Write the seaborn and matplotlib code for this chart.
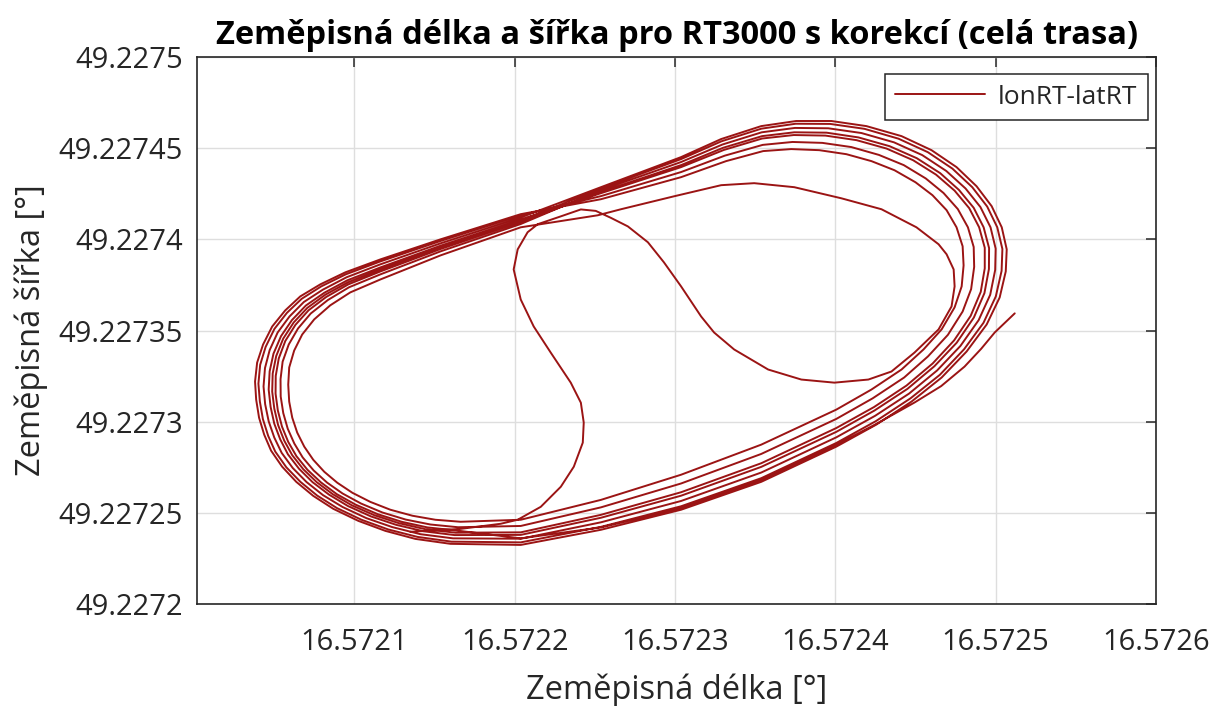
import matplotlib
matplotlib.use("Agg")
import matplotlib.pyplot as plt
import matplotlib.ticker as mticker
import numpy as np
import pandas as pd
import seaborn as sns

# ---------------- data ----------------
# opening manoeuvre: S-curve up, S-curve down, inner right loop
lon_fig = [16.5721350, 16.5721663, 16.5721913, 16.5722019, 16.5722163, 16.5722288, 16.5722369, 16.5722425, 16.5722431, 16.5722413,
           16.5722350, 16.5722225, 16.5722119, 16.5722038, 16.5721994, 16.5722019, 16.5722081, 16.5722144, 16.5722288, 16.5722413,
           16.5722506, 16.5722600, 16.5722706, 16.5722831, 16.5722931, 16.5723038, 16.5723163, 16.5723244, 16.5723369, 16.5723581,
           16.5723788, 16.5723994, 16.5724206, 16.5724350, 16.5724494, 16.5724644, 16.5724725, 16.5724744, 16.5724738, 16.5724694,
           16.5724644, 16.5724506, 16.5724288, 16.5724038, 16.5723744, 16.5723494, 16.5723288, 16.5722994, 16.5722663, 16.5722519]
lat_fig = [49.2272396, 49.2272412, 49.2272440, 49.2272462, 49.2272533, 49.2272643, 49.2272753, 49.2272885, 49.2272995, 49.2273104,
           49.2273214, 49.2273379, 49.2273522, 49.2273670, 49.2273835, 49.2273945, 49.2274039, 49.2274083, 49.2274126, 49.2274164,
           49.2274156, 49.2274118, 49.2274071, 49.2273984, 49.2273874, 49.2273742, 49.2273577, 49.2273489, 49.2273396, 49.2273286,
           49.2273231, 49.2273214, 49.2273231, 49.2273275, 49.2273379, 49.2273506, 49.2273632, 49.2273742, 49.2273835, 49.2273918,
           49.2273973, 49.2274066, 49.2274165, 49.2274225, 49.2274286, 49.2274308, 49.2274297, 49.2274236, 49.2274165, 49.2274132]

lon_lap1 = [16.5722038, 16.5721538, 16.5721163, 16.5720975, 16.5720850, 16.5720750, 16.5720675, 16.5720625, 16.5720594, 16.5720588,
            16.5720594, 16.5720613, 16.5720644, 16.5720688, 16.5720744, 16.5720813, 16.5720894, 16.5720988, 16.5721100, 16.5721225,
            16.5721363, 16.5721506, 16.5721663, 16.5722038, 16.5722538, 16.5723038, 16.5723538, 16.5724006, 16.5724225, 16.5724413,
            16.5724550, 16.5724663, 16.5724744, 16.5724788, 16.5724800, 16.5724794, 16.5724756, 16.5724694, 16.5724606, 16.5724500,
            16.5724369, 16.5724225, 16.5724069, 16.5723900, 16.5723725, 16.5723550, 16.5723319, 16.5723038, 16.5722538]
lat_lap1 = [49.2274066, 49.2273912, 49.2273780, 49.2273709, 49.2273638, 49.2273561, 49.2273478, 49.2273390, 49.2273297, 49.2273203,
            49.2273110, 49.2273022, 49.2272940, 49.2272863, 49.2272791, 49.2272725, 49.2272665, 49.2272610, 49.2272560, 49.2272517,
            49.2272484, 49.2272462, 49.2272451, 49.2272462, 49.2272571, 49.2272709, 49.2272874, 49.2273066, 49.2273176, 49.2273286,
            49.2273396, 49.2273506, 49.2273627, 49.2273742, 49.2273857, 49.2273962, 49.2274066, 49.2274160, 49.2274242, 49.2274313,
            49.2274379, 49.2274429, 49.2274467, 49.2274489, 49.2274495, 49.2274484, 49.2274429, 49.2274341, 49.2274220]

lon_lap2 = [16.5722038, 16.5721538, 16.5721163, 16.5720944, 16.5720788, 16.5720663, 16.5720569, 16.5720488, 16.5720431, 16.5720394,
            16.5720381, 16.5720388, 16.5720406, 16.5720438, 16.5720481, 16.5720550, 16.5720638, 16.5720744, 16.5720869, 16.5721025,
            16.5721194, 16.5721381, 16.5721600, 16.5722038, 16.5722538, 16.5723038, 16.5723538, 16.5724006, 16.5724256, 16.5724475,
            16.5724663, 16.5724819, 16.5724944, 16.5725025, 16.5725063, 16.5725069, 16.5725038, 16.5724975, 16.5724881, 16.5724756,
            16.5724600, 16.5724413, 16.5724194, 16.5723975, 16.5723756, 16.5723538, 16.5723288, 16.5723038, 16.5722538]
lat_lap2 = [49.2274138, 49.2274000, 49.2273890, 49.2273819, 49.2273753, 49.2273687, 49.2273610, 49.2273522, 49.2273423, 49.2273324,
            49.2273220, 49.2273121, 49.2273022, 49.2272929, 49.2272841, 49.2272753, 49.2272670, 49.2272593, 49.2272522, 49.2272456,
            49.2272401, 49.2272357, 49.2272330, 49.2272324, 49.2272407, 49.2272517, 49.2272670, 49.2272863, 49.2272984, 49.2273110,
            49.2273242, 49.2273385, 49.2273533, 49.2273681, 49.2273824, 49.2273945, 49.2274066, 49.2274182, 49.2274291, 49.2274396,
            49.2274489, 49.2274566, 49.2274621, 49.2274649, 49.2274649, 49.2274621, 49.2274550, 49.2274451, 49.2274286]

lon_lap3 = [16.5722038, 16.5721538, 16.5721163, 16.5720952, 16.5720804, 16.5720685, 16.5720596, 16.5720522, 16.5720472, 16.5720443,
            16.5720434, 16.5720444, 16.5720466, 16.5720501, 16.5720547, 16.5720616, 16.5720702, 16.5720805, 16.5720927, 16.5721075,
            16.5721236, 16.5721412, 16.5721616, 16.5722038, 16.5722538, 16.5723038, 16.5723538, 16.5724006, 16.5724248, 16.5724460,
            16.5724635, 16.5724780, 16.5724894, 16.5724966, 16.5724997, 16.5725000, 16.5724968, 16.5724905, 16.5724812, 16.5724692,
            16.5724542, 16.5724366, 16.5724163, 16.5723956, 16.5723748, 16.5723541, 16.5723296, 16.5723038, 16.5722538]
lat_lap3 = [49.2274120, 49.2273978, 49.2273863, 49.2273792, 49.2273724, 49.2273656, 49.2273577, 49.2273489, 49.2273392, 49.2273294,
            49.2273193, 49.2273096, 49.2273002, 49.2272913, 49.2272829, 49.2272746, 49.2272669, 49.2272597, 49.2272532, 49.2272471,
            49.2272422, 49.2272383, 49.2272360, 49.2272358, 49.2272448, 49.2272565, 49.2272721, 49.2272914, 49.2273032, 49.2273154,
            49.2273281, 49.2273415, 49.2273557, 49.2273696, 49.2273832, 49.2273949, 49.2274066, 49.2274177, 49.2274279, 49.2274375,
            49.2274462, 49.2274532, 49.2274583, 49.2274609, 49.2274611, 49.2274587, 49.2274520, 49.2274424, 49.2274270]

lon_lap4 = [16.5722038, 16.5721538, 16.5721163, 16.5720967, 16.5720835, 16.5720728, 16.5720649, 16.5720591, 16.5720553, 16.5720540,
            16.5720541, 16.5720557, 16.5720585, 16.5720626, 16.5720678, 16.5720747, 16.5720830, 16.5720927, 16.5721042, 16.5721175,
            16.5721321, 16.5721475, 16.5721647, 16.5722038, 16.5722538, 16.5723038, 16.5723538, 16.5724006, 16.5724233, 16.5724429,
            16.5724578, 16.5724702, 16.5724794, 16.5724847, 16.5724866, 16.5724863, 16.5724827, 16.5724764, 16.5724675, 16.5724564,
            16.5724427, 16.5724272, 16.5724100, 16.5723919, 16.5723733, 16.5723547, 16.5723311, 16.5723038, 16.5722538]
lat_lap4 = [49.2274084, 49.2273934, 49.2273808, 49.2273737, 49.2273667, 49.2273593, 49.2273511, 49.2273423, 49.2273329, 49.2273233,
            49.2273138, 49.2273047, 49.2272961, 49.2272880, 49.2272804, 49.2272732, 49.2272666, 49.2272606, 49.2272551, 49.2272502,
            49.2272463, 49.2272436, 49.2272421, 49.2272428, 49.2272530, 49.2272661, 49.2272823, 49.2273015, 49.2273128, 49.2273242,
            49.2273358, 49.2273476, 49.2273604, 49.2273727, 49.2273849, 49.2273958, 49.2274066, 49.2274166, 49.2274254, 49.2274334,
            49.2274407, 49.2274463, 49.2274506, 49.2274529, 49.2274534, 49.2274518, 49.2274459, 49.2274369, 49.2274237]

lon_lap5 = [16.5722038, 16.5721538, 16.5721163, 16.5720947, 16.5720794, 16.5720672, 16.5720580, 16.5720502, 16.5720447, 16.5720413,
            16.5720402, 16.5720411, 16.5720430, 16.5720463, 16.5720507, 16.5720576, 16.5720664, 16.5720768, 16.5720892, 16.5721045,
            16.5721211, 16.5721394, 16.5721606, 16.5722038, 16.5722538, 16.5723038, 16.5723538, 16.5724006, 16.5724253, 16.5724469,
            16.5724652, 16.5724803, 16.5724924, 16.5725001, 16.5725037, 16.5725042, 16.5725010, 16.5724947, 16.5724854, 16.5724730,
            16.5724577, 16.5724394, 16.5724182, 16.5723968, 16.5723753, 16.5723539, 16.5723291, 16.5723038, 16.5722538]
lat_lap5 = [49.2274131, 49.2273991, 49.2273879, 49.2273808, 49.2273742, 49.2273674, 49.2273597, 49.2273509, 49.2273410, 49.2273312,
            49.2273209, 49.2273111, 49.2273014, 49.2272922, 49.2272836, 49.2272750, 49.2272670, 49.2272595, 49.2272526, 49.2272462,
            49.2272409, 49.2272368, 49.2272342, 49.2272338, 49.2272423, 49.2272536, 49.2272690, 49.2272883, 49.2273003, 49.2273128,
            49.2273257, 49.2273397, 49.2273542, 49.2273687, 49.2273827, 49.2273947, 49.2274066, 49.2274180, 49.2274286, 49.2274388,
            49.2274478, 49.2274552, 49.2274606, 49.2274633, 49.2274634, 49.2274607, 49.2274538, 49.2274440, 49.2274279]

lon_lap6 = [16.5722038, 16.5721538, 16.5721163, 16.5720960, 16.5720819, 16.5720707, 16.5720622, 16.5720557, 16.5720513, 16.5720491,
            16.5720488, 16.5720501, 16.5720525, 16.5720563, 16.5720613, 16.5720682, 16.5720766, 16.5720866, 16.5720985, 16.5721125,
            16.5721279, 16.5721444, 16.5721632, 16.5722038, 16.5722538, 16.5723038, 16.5723538, 16.5724006, 16.5724241, 16.5724444,
            16.5724607, 16.5724741, 16.5724844, 16.5724907, 16.5724932, 16.5724932, 16.5724897, 16.5724835, 16.5724744, 16.5724628,
            16.5724485, 16.5724319, 16.5724132, 16.5723938, 16.5723741, 16.5723544, 16.5723304, 16.5723038, 16.5722538]
lat_lap6 = [49.2274102, 49.2273956, 49.2273835, 49.2273764, 49.2273696, 49.2273624, 49.2273544, 49.2273456, 49.2273360, 49.2273264,
            49.2273165, 49.2273072, 49.2272981, 49.2272896, 49.2272816, 49.2272739, 49.2272668, 49.2272602, 49.2272541, 49.2272487,
            49.2272443, 49.2272410, 49.2272391, 49.2272393, 49.2272489, 49.2272613, 49.2272772, 49.2272965, 49.2273080, 49.2273198,
            49.2273319, 49.2273446, 49.2273580, 49.2273712, 49.2273841, 49.2273954, 49.2274066, 49.2274171, 49.2274267, 49.2274355,
            49.2274434, 49.2274498, 49.2274544, 49.2274569, 49.2274572, 49.2274553, 49.2274490, 49.2274396, 49.2274253]

lon_lap7 = [16.5722038, 16.5721538, 16.5721163, 16.5720956, 16.5720813, 16.5720698, 16.5720611, 16.5720543, 16.5720496, 16.5720472,
            16.5720466, 16.5720478, 16.5720501, 16.5720538, 16.5720586, 16.5720655, 16.5720740, 16.5720842, 16.5720961, 16.5721105,
            16.5721262, 16.5721431, 16.5721625, 16.5722038, 16.5722538, 16.5723038, 16.5723538, 16.5724006, 16.5724244, 16.5724450,
            16.5724618, 16.5724757, 16.5724864, 16.5724930, 16.5724958, 16.5724959, 16.5724925, 16.5724863, 16.5724771, 16.5724654,
            16.5724508, 16.5724338, 16.5724144, 16.5723945, 16.5723744, 16.5723543, 16.5723300, 16.5723038, 16.5722538]
lat_lap7 = [49.2274109, 49.2273965, 49.2273846, 49.2273775, 49.2273707, 49.2273637, 49.2273557, 49.2273469, 49.2273373, 49.2273276,
            49.2273176, 49.2273081, 49.2272989, 49.2272903, 49.2272821, 49.2272742, 49.2272668, 49.2272600, 49.2272537, 49.2272480,
            49.2272434, 49.2272399, 49.2272378, 49.2272379, 49.2272473, 49.2272594, 49.2272752, 49.2272944, 49.2273061, 49.2273180,
            49.2273304, 49.2273433, 49.2273571, 49.2273705, 49.2273837, 49.2273952, 49.2274066, 49.2274173, 49.2274271, 49.2274363,
            49.2274445, 49.2274511, 49.2274559, 49.2274585, 49.2274587, 49.2274566, 49.2274502, 49.2274407, 49.2274260]

# last partial lap ending in the short tail at the right
lon_last = [16.5722038, 16.5721538, 16.5721163, 16.5720963, 16.5720825, 16.5720715, 16.5720633, 16.5720570, 16.5720529, 16.5720510,
            16.5720509, 16.5720523, 16.5720549, 16.5720588, 16.5720639, 16.5720708, 16.5720792, 16.5720890, 16.5721008, 16.5721145,
            16.5721295, 16.5721456, 16.5721638, 16.5722038, 16.5722538, 16.5723038, 16.5723538, 16.5724006, 16.5724250, 16.5724494,
            16.5724660, 16.5724806, 16.5724910, 16.5724994, 16.5725119]
lat_last = [49.2274095, 49.2273947, 49.2273824, 49.2273753, 49.2273684, 49.2273611, 49.2273531, 49.2273443, 49.2273347, 49.2273251,
            49.2273154, 49.2273062, 49.2272973, 49.2272889, 49.2272811, 49.2272736, 49.2272667, 49.2272603, 49.2272545, 49.2272493,
            49.2272451, 49.2272420, 49.2272403, 49.2272360, 49.2272420, 49.2272525, 49.2272680, 49.2272873, 49.2272985, 49.2273105,
            49.2273195, 49.2273302, 49.2273400, 49.2273489, 49.2273594]

x_ticks = [16.5721, 16.5722, 16.5723, 16.5724, 16.5725, 16.5726]
y_ticks = [49.2272, 49.22725, 49.2273, 49.22735, 49.2274, 49.22745, 49.2275]

lon_all = (lon_fig + lon_lap1 + lon_lap2 + lon_lap3 + lon_lap4 + lon_lap5 + lon_lap6 + lon_lap7 + lon_last)
lat_all = (lat_fig + lat_lap1 + lat_lap2 + lat_lap3 + lat_lap4 + lat_lap5 + lat_lap6 + lat_lap7 + lat_last)
df = pd.DataFrame({"lon": lon_all, "lat": lat_all})

# ---------------- style ----------------
sns.set_style("white")
plt.rcParams["font.family"] = ["Open Sans", "DejaVu Sans"]
TXT = "#262626"
LINE = "#9B1414"

fig = plt.figure(figsize=(12.12, 7.06), dpi=100)
ax = fig.add_axes([197 / 1212, 1 - 604 / 706, (1156 - 197) / 1212, (604 - 57) / 706])

sns.lineplot(data=df, x="lon", y="lat", sort=False, estimator=None, color=LINE,
             linewidth=1.4, label="lonRT-latRT", ax=ax)
for ln in ax.get_lines():
    ln.set_solid_joinstyle("round")

ax.set_xlim(16.5720019, 16.5726)
ax.set_ylim(49.2272, 49.2275)
ax.xaxis.set_major_locator(mticker.FixedLocator(x_ticks))
ax.yaxis.set_major_locator(mticker.FixedLocator(y_ticks))
fmt = mticker.FuncFormatter(lambda v, p: ("%.5f" % v).rstrip("0").rstrip("."))
ax.xaxis.set_major_formatter(fmt)
ax.yaxis.set_major_formatter(fmt)

ax.grid(True, color="#dedede", linewidth=1.0)
ax.set_axisbelow(True)
for s in ax.spines.values():
    s.set_visible(True)
    s.set_color(TXT)
    s.set_linewidth(1.2)
ax.tick_params(direction="in", length=7, width=1.1, top=True, right=True,
               colors=TXT, labelsize=21)
ax.tick_params(axis="x", pad=17)
ax.tick_params(axis="y", pad=10)

ax.set_xlabel("Zeměpisná délka [°]", fontsize=23.5, color=TXT, labelpad=12)
ax.set_ylabel("Zeměpisná šířka [°]", fontsize=23.5, color=TXT, labelpad=8)
ax.set_title("Zeměpisná délka a šířka pro RT3000 s korekcí (celá trasa)",
             fontsize=23.5, fontweight="bold", color="black", pad=9)

leg = ax.legend(loc="upper right", bbox_to_anchor=(0.9917, 0.969), borderaxespad=0,
                fontsize=19, handlelength=3.4, handletextpad=0.5, frameon=True,
                fancybox=False, framealpha=1, edgecolor=TXT)
leg.get_frame().set_linewidth(1.1)
for t in leg.get_texts():
    t.set_color(TXT)

fig.savefig("out.png", dpi=100)
